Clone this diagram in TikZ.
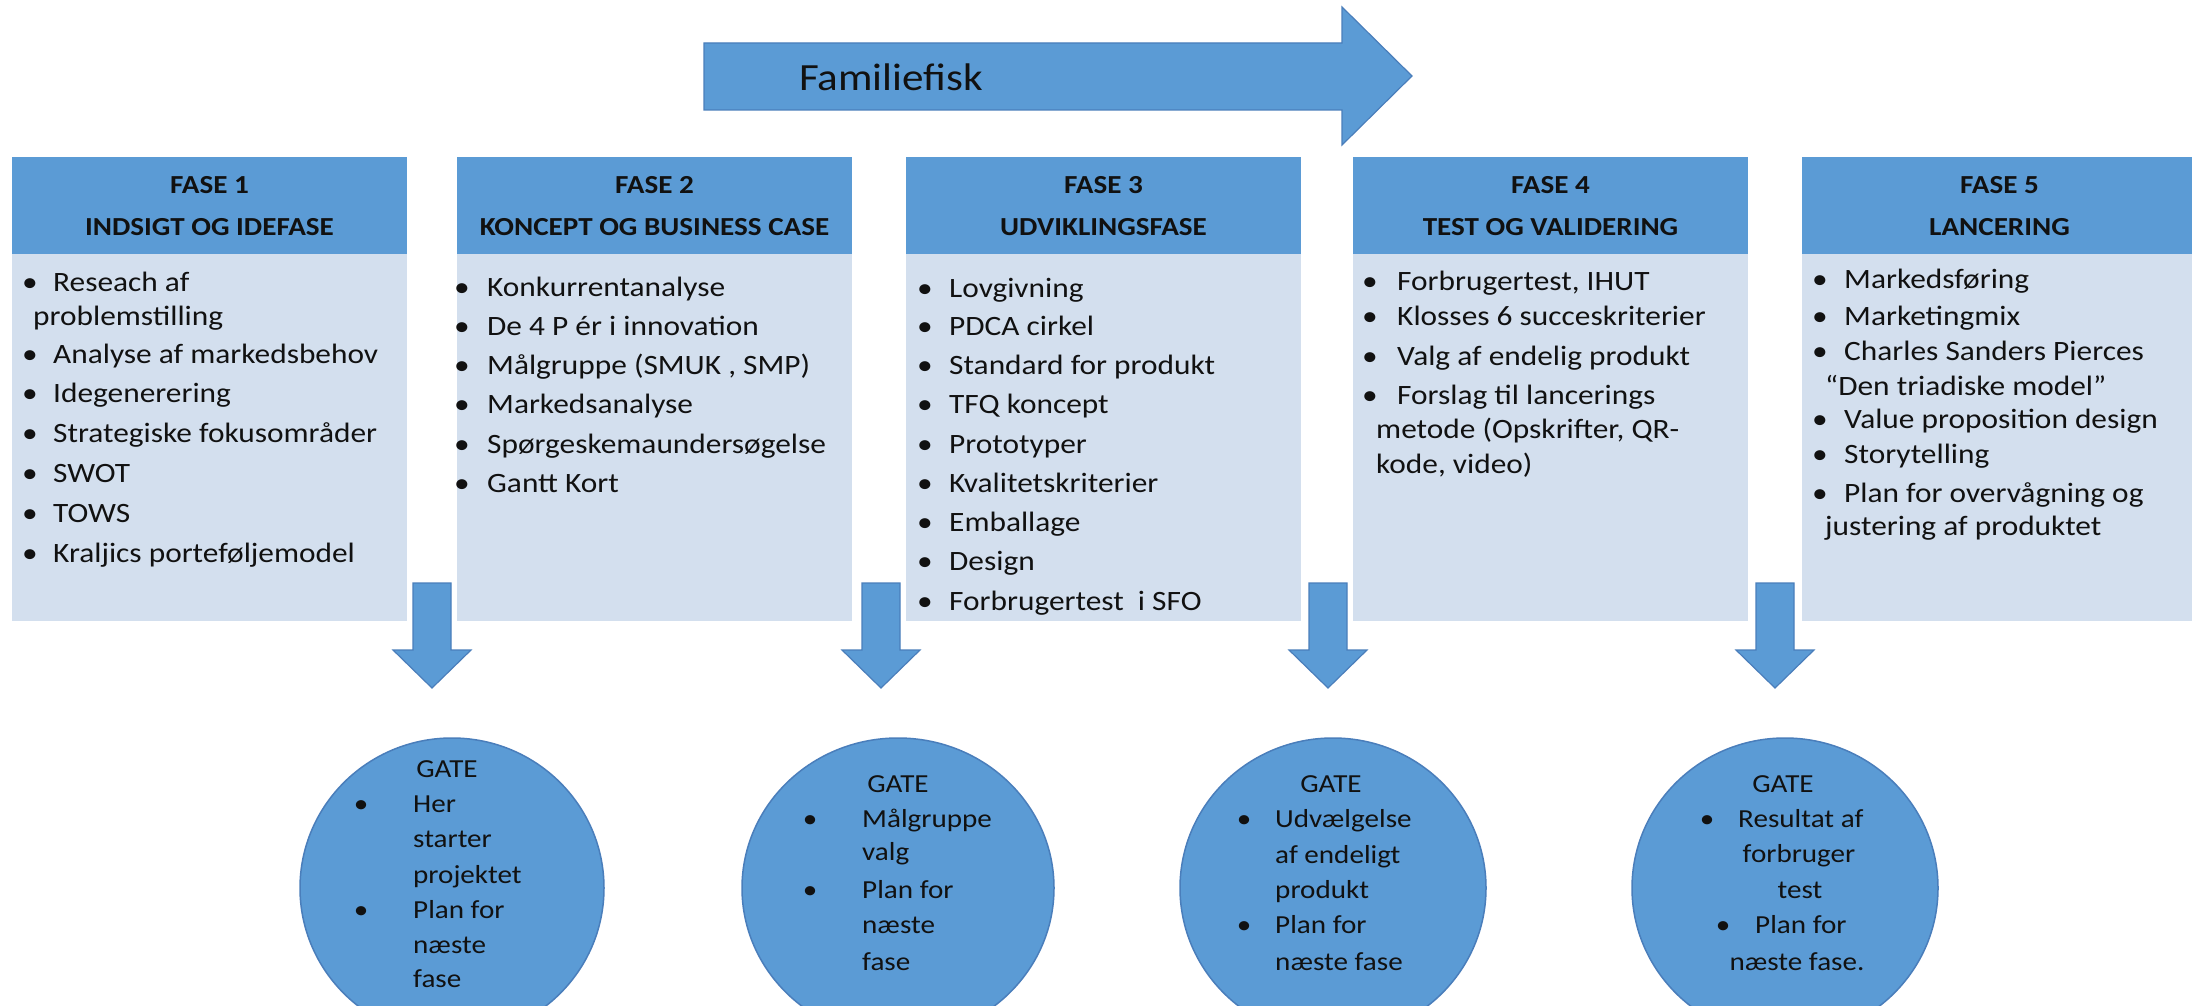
\documentclass[tikz,border=0pt]{standalone}
\usepackage{fontspec}
\setmainfont{Carlito}[FakeStretch=1.12]
\usetikzlibrary{shapes.geometric}
\definecolor{hdr}{HTML}{5B9BD5}
\definecolor{bodyc}{HTML}{D3DFEE}
\definecolor{edgec}{HTML}{4A7EBB}
\definecolor{ink}{HTML}{111111}
\begin{document}
\begin{tikzpicture}[x=1pt,y=-1pt,
  hdrbox/.style={fill=hdr,draw=none,minimum width=395pt,minimum height=97pt,anchor=north west,inner sep=0},
  bodybox/.style={fill=bodyc,draw=none,minimum width=395pt,minimum height=367pt,anchor=north west,inner sep=0},
  blockarrow/.style={fill=hdr,draw=edgec,line width=1.2pt,line join=miter},
  gate/.style={ellipse,fill=hdr,draw=edgec,line width=1.5pt,minimum height=300pt,inner sep=0},
  htxt/.style={font=\fontsize{26}{30}\selectfont\bfseries,text=ink,inner sep=0,anchor=base},
  btxt/.style={font=\fontsize{28}{34}\selectfont,text=ink,inner sep=0,anchor=base west},
  bul/.style={font=\fontsize{28}{34}\selectfont,text=ink,inner sep=0,anchor=base},
  gtxt/.style={font=\fontsize{26}{30}\selectfont,text=ink,inner sep=0,anchor=base west},
  gctr/.style={font=\fontsize{26}{30}\selectfont,text=ink,inner sep=0,anchor=base},
  ttxt/.style={font=\fontsize{38.5}{44}\selectfont,text=ink,inner sep=0,anchor=base west}]
\useasboundingbox (0,0) rectangle (2192,1006);
\clip (0,0) rectangle (2192,1006);
\fill[white] (0,0) rectangle (2192,1006);

% big arrow
\draw[blockarrow] (704,43) -- (1342,43) -- (1342,7) -- (1412,76) -- (1342,145) -- (1342,110) -- (704,110) -- cycle;
\node[ttxt] (title) at (799,91) {Familiefisk};

% phase boxes
\foreach \x [count=\i] in {12,457,906,1353,1802} {
  \node[hdrbox] (h\i) at (\x,157) {};
  \node[bodybox] (b\i) at (\x,254) {};
}
\node[htxt] (h1a) at (209.5,193) {FASE 1};
\node[htxt] (h1b) at (209.5,235) {INDSIGT OG IDEFASE};
\node[htxt] (h2a) at (654.5,193) {FASE 2};
\node[htxt] (h2b) at (654.5,235) {KONCEPT OG BUSINESS CASE};
\node[htxt] (h3a) at (1103.5,193) {FASE 3};
\node[htxt] (h3b) at (1103.5,235) {UDVIKLINGSFASE};
\node[htxt] (h4a) at (1550.5,193) {FASE 4};
\node[htxt] (h4b) at (1550.5,235) {TEST OG VALIDERING};
\node[htxt] (h5a) at (1999.5,193) {FASE 5};
\node[htxt] (h5b) at (1999.5,235) {LANCERING};

% box 1
\foreach \y/\t [count=\i] in {291/Reseach af,363/Analyse af markedsbehov,402/Idegenerering,442/Strategiske fokusområder,482/SWOT,522/TOWS,562/Kraljics porteføljemodel} {
  \node[bul] (p1b\i) at (30,\y) {\textbullet};
  \node[btxt] (p1t\i) at (53,\y) {\t};
}
\node[btxt] (p1c1) at (33,325) {problemstilling};

% box 2
\foreach \y/\t [count=\i] in {296/Konkurrentanalyse,335/De 4 P ér i innovation,{374/Målgruppe (SMUK , SMP)},413/Markedsanalyse,453/Spørgeskemaundersøgelse,492/Gantt Kort} {
  \node[bul] (p2b\i) at (462,\y) {\textbullet};
  \node[btxt] (p2t\i) at (487,\y) {\t};
}

% box 3
\foreach \y/\t [count=\i] in {297/Lovgivning,335/PDCA cirkel,374/Standard for produkt,413/TFQ koncept,453/Prototyper,492/Kvalitetskriterier,531/Emballage,570/Design,610/Forbrugertest\ \ i SFO} {
  \node[bul] (p3b\i) at (925,\y) {\textbullet};
  \node[btxt] (p3t\i) at (949,\y) {\t};
}

% box 4
\foreach \y/\t [count=\i] in {{290/Forbrugertest, IHUT},325/Klosses 6 succeskriterier,365/Valg af endelig produkt,404/Forslag til lancerings} {
  \node[bul] (p4b\i) at (1370,\y) {\textbullet};
  \node[btxt] (p4t\i) at (1397,\y) {\t};
}
\node[btxt] (p4c1) at (1376,438) {metode (Opskrifter, QR-};
\node[btxt] (p4c2) at (1376,473) {kode, video)};

% box 5
\foreach \y/\t [count=\i] in {288/Markedsføring,325/Marketingmix,360/Charles Sanders Pierces,428/Value proposition design,463/Storytelling,502/Plan for overvågning og} {
  \node[bul] (p5b\i) at (1820,\y) {\textbullet};
  \node[btxt] (p5t\i) at (1844,\y) {\t};
}
\node[btxt] (p5c1) at (1825,395) {“Den triadiske model”};
\node[btxt] (p5c2) at (1825,535) {justering af produktet};

% down arrows
\foreach \c [count=\i] in {432,881,1328,1775} {
  \draw[blockarrow] (\c-19,583) -- (\c+19,583) -- (\c+19,650) -- (\c+39,650) -- (\c,688) -- (\c-39,650) -- (\c-19,650) -- cycle;
}

% gates
\node[gate,minimum width=304pt] (g1) at (452,888) {};
\node[gate,minimum width=312pt] (g2) at (898,888) {};
\node[gate,minimum width=306pt] (g3) at (1333,888) {};
\node[gate,minimum width=306pt] (g4) at (1785,888) {};

% gate 1 text
\node[gctr] (g1h) at (447,777) {GATE};
\node[gctr] (g1b1) at (361,812) {\textbullet};
\node[gctr] (g1b2) at (361,918) {\textbullet};
\foreach \y/\t [count=\i] in {812/Her,847/starter,883/projektet,918/Plan for,953/næste,987/fase} {
  \node[gtxt] (g1t\i) at (413,\y) {\t};
}
% gate 2 text
\node[gctr] (g2h) at (898,792) {GATE};
\node[gctr] (g2b1) at (810,827) {\textbullet};
\node[gctr] (g2b2) at (810,898) {\textbullet};
\foreach \y/\t [count=\i] in {827/Målgruppe,860/valg,898/Plan for,933/næste,970/fase} {
  \node[gtxt] (g2t\i) at (862,\y) {\t};
}
% gate 3 text
\node[gctr] (g3h) at (1331,792) {GATE};
\node[gctr] (g3b1) at (1244,827) {\textbullet};
\node[gctr] (g3b2) at (1244,933) {\textbullet};
\foreach \y/\t [count=\i] in {827/Udvælgelse,863/af endeligt,898/produkt,933/Plan for,970/næste fase} {
  \node[gtxt] (g3t\i) at (1275,\y) {\t};
}
% gate 4 text
\node[gctr] (g4h) at (1783,792) {GATE};
\node[gctr] (g4b1) at (1707,827) {\textbullet};
\node[gtxt] (g4t1) at (1738,827) {Resultat af};
\node[gctr] (g4t2) at (1799,862) {forbruger};
\node[gctr] (g4t3) at (1800,898) {test};
\node[gctr] (g4b2) at (1723,933) {\textbullet};
\node[gtxt] (g4t4) at (1755,933) {Plan for};
\node[gctr] (g4t5) at (1797,970) {næste fase.};
\end{tikzpicture}
\end{document}
